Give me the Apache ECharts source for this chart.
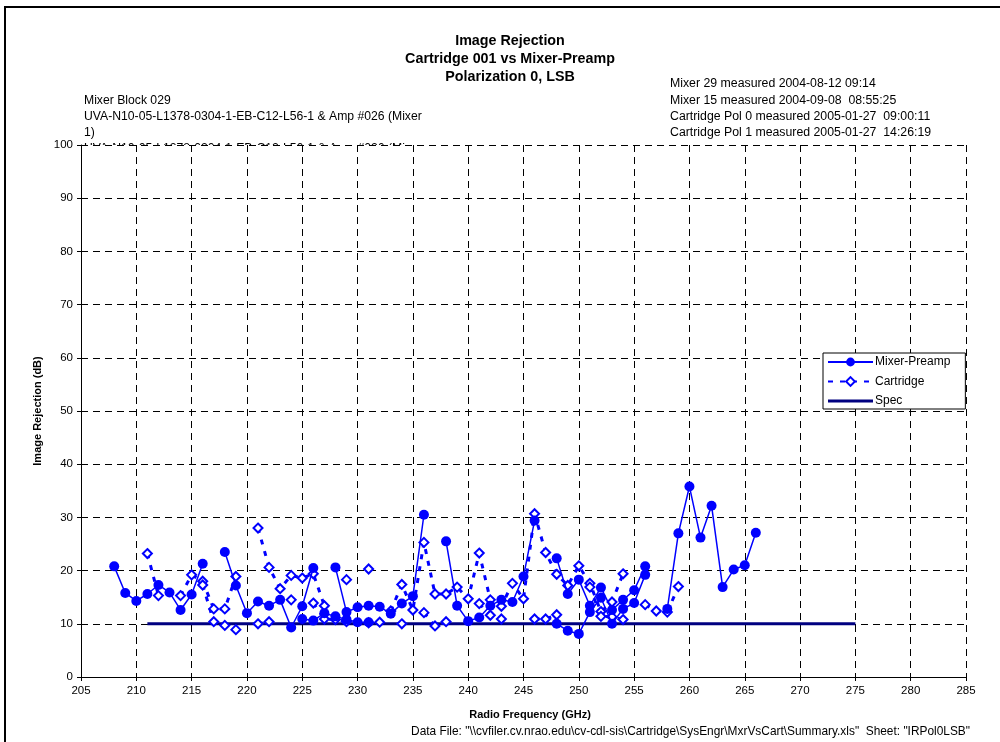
<!DOCTYPE html>
<html>
<head>
<meta charset="utf-8">
<title>Image Rejection</title>
<script src="https://cdn.jsdelivr.net/npm/echarts@6/dist/echarts.min.js"></script>
<style>
html, body { margin: 0; padding: 0; background: #fff; }
#main { width: 1000px; height: 742px; }
</style>
</head>
<body>
<div id="main"></div>
<script>
// axis ranges
var freqMin = 205, freqMax = 285, freqStep = 5;
var dbMin = 0, dbMax = 100, dbStep = 10;

// Mixer-Preamp, 1 GHz steps (null = no point measured)
var mixerStartA = 208;
var mixerDbA = [
  20.8, 15.8, 14.3, 15.6, 17.3, 15.9, 12.6, 15.5, 21.3, null,
  23.5, 17.2, 12.0, 14.2, 13.4, 14.5, 9.3, 13.3, 20.5, null,
  20.6, 12.2, 13.1, 13.4, 13.2, 11.9, 13.8, 15.2, 30.5, null,
  25.5, 13.4, 10.5, 11.2, 13.4, 14.5, 14.1, 18.9, 29.4, null,
  22.3, 15.6, 18.3, 13.4, 16.8, 12.6, 14.5, 16.3, 20.8, null,
  12.8, 27.0, 35.8, 26.2, 32.2, 16.9, 20.2, 21.0, 27.1
];
var mixerStartB = 225;
var mixerDbB = [10.9, 10.6, 12.0, 11.4, 10.8, 10.3, 10.3];
var mixerStartC = 248;
var mixerDbC = [10.0, 8.7, 8.1, 12.2, 14.9, 10.0, 12.8, 13.9, 19.2];

// Cartridge
var cartStartA = 211;
var cartDbA = [
  23.2, 15.3, null, 15.3, 19.2, 18.0, 12.8, 12.8, 18.9, null,
  28.0, 20.6, 16.6, 19.1, 18.6, 19.4, 13.4, null, 18.3, null,
  20.3, null, 12.4, 17.4, 12.6, 25.3, 15.6, 15.6, 16.9, 14.7,
  23.3, 14.5, 13.3, 17.6, 14.7, 30.7, 23.4, 19.3, 17.2, 20.9,
  17.6, 12.3, 14.1, 19.4, null, 13.6, 12.4, 12.2, 17.0
];
var cartStartB = 216;
var cartDbB = [
  17.3, 10.4, 9.7, 8.9, null, 10.0, 10.4, null, 14.5, null,
  13.9, 10.9, 10.8, 10.4, null, 10.2, 10.3, null, 10.0, null,
  12.1, 9.6, 10.4, null, null, 13.8, 11.6, 10.9, null, null,
  10.9, 10.9, 11.7, null, null, 16.9, 11.4, 11.3, 10.8
];

// Spec limit
var specFreq = [211, 275];
var specDb = [10, 10];

var titleLines = ['Image Rejection', 'Cartridge 001 vs Mixer-Preamp', 'Polarization 0, LSB'];
var mixerLines = [
  'Mixer Block 029',
  'UVA-N10-05-L1378-0304-1-EB-C12-L56-1 & Amp #026 (Mixer',
  '1)',
  'UVA-N10-05-L1378-0304-1-EB-C12-L56-1 & Amp #026 (Mi'
];
var measuredLines = [
  'Mixer 29 measured 2004-08-12 09:14',
  'Mixer 15 measured 2004-09-08  08:55:25',
  'Cartridge Pol 0 measured 2005-01-27  09:00:11',
  'Cartridge Pol 1 measured 2005-01-27  14:26:19'
];
var dataFileText = 'Data File: "\\\\cvfiler.cv.nrao.edu\\cv-cdl-sis\\Cartridge\\SysEngr\\MxrVsCart\\Summary.xls"  Sheet: "IRPol0LSB"';

var FONT = '"Liberation Sans", Arial, sans-serif';

function sweep(start, values) {
  return values.map(function (v, i) {
    return [start + i, v === null ? '-' : v];
  });
}
function joinSweeps(list) {
  var out = [];
  list.forEach(function (s, k) {
    if (k > 0) out.push(['-', '-']);
    out = out.concat(s);
  });
  return out;
}

var mixerData = joinSweeps([
  sweep(mixerStartA, mixerDbA),
  sweep(mixerStartB, mixerDbB),
  sweep(mixerStartC, mixerDbC)
]);
var cartData = joinSweeps([
  sweep(cartStartA, cartDbA),
  sweep(cartStartB, cartDbB)
]);
var specData = specFreq.map(function (f, i) { return [f, specDb[i]]; });

var graphics = [
  { type: 'rect', z: 10, silent: true, shape: { x: 5, y: 7, width: 1000, height: 800 },
    style: { fill: 'none', stroke: '#000', lineWidth: 2 } }
];
titleLines.forEach(function (t, i) {
  graphics.push({ type: 'text', x: 510, y: 41 + i * 18, z: 10,
    style: { text: t, font: 'bold 14.3px ' + FONT, fill: '#000', textAlign: 'center', textVerticalAlign: 'middle' } });
});
mixerLines.forEach(function (t, i) {
  graphics.push({ type: 'text', x: 84, y: 100.5 + i * 16, z: 0,
    style: { text: t, font: '12.2px ' + FONT, fill: '#000', textVerticalAlign: 'middle' } });
});
// plot area hides the last (overflowing) text line
graphics.push({ type: 'rect', z: 0.5, silent: true, shape: { x: 81, y: 145, width: 885, height: 532 },
  style: { fill: '#fff' } });
measuredLines.forEach(function (t, i) {
  graphics.push({ type: 'text', x: 670, y: 84 + i * 16.3, z: 10,
    style: { text: t, font: '12.3px ' + FONT, fill: '#000', textVerticalAlign: 'middle' } });
});
graphics.push({ type: 'text', x: 530, y: 715, z: 10,
  style: { text: 'Radio Frequency (GHz)', font: 'bold 11px ' + FONT, fill: '#000', textAlign: 'center', textVerticalAlign: 'middle' } });
graphics.push({ type: 'text', x: 38, y: 411, rotation: Math.PI / 2, z: 10,
  style: { text: 'Image Rejection (dB)', font: 'bold 11px ' + FONT, fill: '#000', textAlign: 'center', textVerticalAlign: 'middle' } });
graphics.push({ type: 'text', x: 970, y: 732, z: 10,
  style: { text: dataFileText, font: '11.9px ' + FONT, fill: '#000', textAlign: 'right', textVerticalAlign: 'middle' } });

var myChart = echarts.init(document.getElementById('main'), null, { renderer: 'canvas' });
myChart.setOption({
  animation: false,
  backgroundColor: '#fff',
  textStyle: { fontFamily: FONT },
  graphic: graphics,
  grid: { left: 81, top: 145, width: 885, height: 532, containLabel: false },
  legend: {
    orient: 'vertical',
    left: 823,
    top: 353,
    z: 10,
    backgroundColor: '#fff',
    borderColor: '#000',
    borderWidth: 1,
    borderRadius: 0,
    padding: [3, 15, 2, 4],
    itemWidth: 45,
    itemHeight: 11,
    itemGap: 7.5,
    textStyle: { fontFamily: FONT, fontSize: 12, color: '#000', padding: [0, 0, 0, -3] },
    data: [
      'Mixer-Preamp',
      'Cartridge',
      // spec is a plain line, no marker
      { name: 'Spec', icon: 'path://M0,0 H45 V3 H0 Z', itemStyle: { color: '#000080' } }
    ]
  },
  xAxis: {
    type: 'value',
    min: freqMin,
    max: freqMax,
    interval: freqStep,
    z: 1,
    axisLine: { show: true, onZero: false, lineStyle: { color: '#000', width: 1 } },
    axisTick: { show: true, length: 4, lineStyle: { color: '#000' } },
    axisLabel: { color: '#000', fontSize: 11.5, margin: 8, fontFamily: FONT },
    splitLine: { show: true, lineStyle: { color: '#000', type: [7, 5], width: 1 } }
  },
  yAxis: {
    type: 'value',
    min: dbMin,
    max: dbMax,
    interval: dbStep,
    z: 1,
    axisLine: { show: true, onZero: false, lineStyle: { color: '#000', width: 1 } },
    axisTick: { show: true, length: 4, lineStyle: { color: '#000' } },
    axisLabel: { color: '#000', fontSize: 11.5, margin: 8, fontFamily: FONT },
    splitLine: { show: true, lineStyle: { color: '#000', type: [7, 5], width: 1 } }
  },
  series: [
    {
      name: 'Spec',
      type: 'line',
      z: 3,
      data: specData,
      symbol: 'none',
      color: '#000080',
      lineStyle: { color: '#000080', width: 3 }
    },
    {
      name: 'Cartridge',
      type: 'line',
      z: 4,
      data: cartData,
      connectNulls: false,
      symbol: 'emptyDiamond',
      symbolSize: 9,
      color: '#0000ff',
      itemStyle: { color: '#0000ff', borderWidth: 1.6 },
      lineStyle: { color: '#0000ff', width: 3, type: [5, 7] }
    },
    {
      name: 'Mixer-Preamp',
      type: 'line',
      z: 5,
      data: mixerData,
      connectNulls: false,
      symbol: 'circle',
      symbolSize: 10,
      color: '#0000ff',
      itemStyle: { color: '#0000ff' },
      lineStyle: { color: '#0000ff', width: 1.5 }
    }
  ]
});
</script>
</body>
</html>
